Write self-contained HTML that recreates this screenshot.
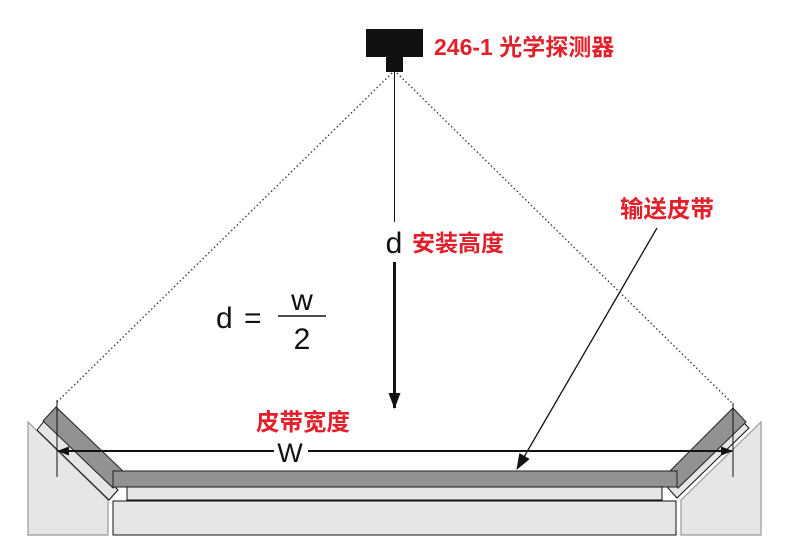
<!DOCTYPE html>
<html><head><meta charset="utf-8"><style>
html,body{margin:0;padding:0;background:#fff;}
</style></head><body>
<svg width="786" height="540" viewBox="0 0 786 540" xmlns="http://www.w3.org/2000/svg">
<defs>
<marker id="ah" markerWidth="12" markerHeight="9" refX="11" refY="4.5" orient="auto" markerUnits="userSpaceOnUse">
<path d="M0,0 L12,4.5 L0,9 Z" fill="#111"/></marker>
<marker id="ah2" markerWidth="16" markerHeight="12" refX="15" refY="6" orient="auto" markerUnits="userSpaceOnUse">
<path d="M0,0 L16,6 L0,12 Z" fill="#111"/></marker>
</defs>
<rect x="366" y="29" width="57" height="28" fill="#111"/>
<rect x="386" y="56" width="17" height="16" fill="#111"/>
<line x1="392" y1="73" x2="57" y2="402" stroke="#333" stroke-width="1.3" stroke-dasharray="1.5,2.5"/>
<line x1="397" y1="73" x2="733" y2="404" stroke="#333" stroke-width="1.3" stroke-dasharray="1.5,2.5"/>
<line x1="394.5" y1="72" x2="394.5" y2="222" stroke="#111" stroke-width="1"/>
<line x1="394.5" y1="262" x2="394.5" y2="408" stroke="#111" stroke-width="3" marker-end="url(#ah2)"/>
<!-- left support -->
<polygon points="28,422 108,500 108,535 28,535" fill="#e6e6e6" stroke="#999" stroke-width="1.2"/>
<polygon points="37,430 45,420 118,490 109,500" fill="#e6e6e6" stroke="#111" stroke-width="1"/>
<polygon points="43,421 56,407 126,474 113,488" fill="#909294" stroke="#222" stroke-width="1"/>
<!-- right support -->
<polygon points="761,422 681,500 681,535 761,535" fill="#e6e6e6" stroke="#999" stroke-width="1.2"/>
<polygon points="749,428 740,419 668,488 677,498" fill="#e6e6e6" stroke="#111" stroke-width="1"/>
<polygon points="746,422 733,408 665,476 678,488" fill="#909294" stroke="#222" stroke-width="1"/>
<!-- belt -->
<rect x="113" y="471" width="564" height="16" fill="#909294" stroke="#222" stroke-width="1"/>
<rect x="127" y="487" width="535" height="13" fill="#e6e6e6" stroke="#111" stroke-width="1"/>
<rect x="113" y="501" width="563" height="34" fill="#e6e6e6" stroke="#111" stroke-width="1"/>
<line x1="57" y1="400" x2="57" y2="477" stroke="#111" stroke-width="1"/>
<line x1="733" y1="403" x2="733" y2="477" stroke="#111" stroke-width="1"/>
<line x1="80" y1="451" x2="58" y2="451" stroke="#111" stroke-width="2" marker-end="url(#ah)"/>
<line x1="80" y1="451" x2="732" y2="451" stroke="#111" stroke-width="2" marker-end="url(#ah)"/>
<rect x="274" y="438" width="34" height="26" fill="#fff"/>
<text x="290" y="462" font-family="Liberation Sans,sans-serif" font-size="27" text-anchor="middle" fill="#111">W</text>
<line x1="657" y1="228" x2="517" y2="469" stroke="#111" stroke-width="1.3" marker-end="url(#ah2)"/>
<g font-family="Liberation Sans,Noto Sans CJK SC,sans-serif" fill="#e0202a" font-weight="bold">
<text x="434" y="55" font-size="23">246-1 光学探测器</text>
<text x="412" y="251" font-size="23">安装高度</text>
<text x="256" y="430" font-size="23.5">皮带宽度</text>
<text x="620" y="217" font-size="23.5">输送皮带</text>
</g>
<g font-family="Liberation Sans,sans-serif" fill="#111" font-size="30">
<text x="394" y="253" text-anchor="middle">d</text>
<text x="216" y="328">d</text>
<text x="244" y="328">=</text>
<text x="302" y="310" text-anchor="middle">w</text>
<text x="302" y="349" text-anchor="middle">2</text>
</g>
<line x1="278" y1="316" x2="326" y2="316" stroke="#111" stroke-width="1.5"/>
</svg>
</body></html>
